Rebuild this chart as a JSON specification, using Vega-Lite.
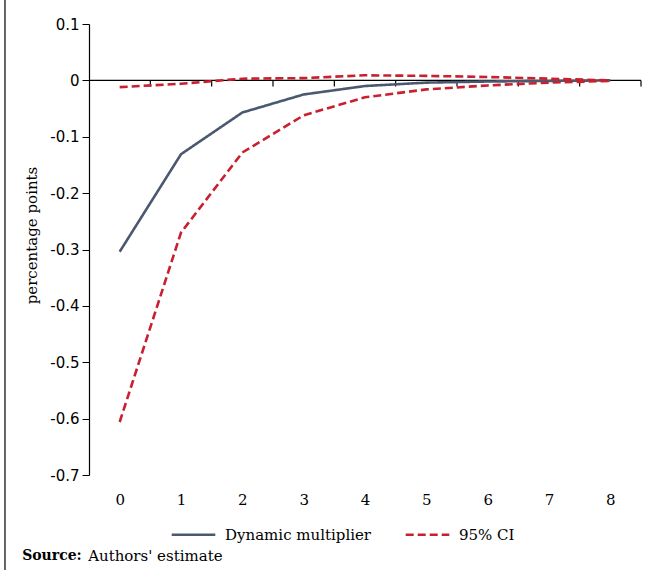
{
  "$schema": "https://vega.github.io/schema/vega-lite/v6.json",
  "autosize": {"type": "none"},
  "width": 552,
  "height": 451,
  "padding": {"left": 89, "top": 24, "right": 6, "bottom": 95},
  "background": "white",
  "config": {
    "view": {"stroke": null},
    "font": "DejaVu Serif"
  },
  "datasets": {
    "series": [
      {"period": 0, "value": -0.304, "series": "Dynamic multiplier", "line": "dm"},
      {"period": 1, "value": -0.131, "series": "Dynamic multiplier", "line": "dm"},
      {"period": 2, "value": -0.057, "series": "Dynamic multiplier", "line": "dm"},
      {"period": 3, "value": -0.025, "series": "Dynamic multiplier", "line": "dm"},
      {"period": 4, "value": -0.010, "series": "Dynamic multiplier", "line": "dm"},
      {"period": 5, "value": -0.004, "series": "Dynamic multiplier", "line": "dm"},
      {"period": 6, "value": -0.002, "series": "Dynamic multiplier", "line": "dm"},
      {"period": 7, "value": -0.001, "series": "Dynamic multiplier", "line": "dm"},
      {"period": 8, "value": 0.000, "series": "Dynamic multiplier", "line": "dm"},
      {"period": 0, "value": -0.606, "series": "95% CI", "line": "lower"},
      {"period": 1, "value": -0.270, "series": "95% CI", "line": "lower"},
      {"period": 2, "value": -0.128, "series": "95% CI", "line": "lower"},
      {"period": 3, "value": -0.062, "series": "95% CI", "line": "lower"},
      {"period": 4, "value": -0.030, "series": "95% CI", "line": "lower"},
      {"period": 5, "value": -0.016, "series": "95% CI", "line": "lower"},
      {"period": 6, "value": -0.009, "series": "95% CI", "line": "lower"},
      {"period": 7, "value": -0.004, "series": "95% CI", "line": "lower"},
      {"period": 8, "value": -0.001, "series": "95% CI", "line": "lower"},
      {"period": 0, "value": -0.012, "series": "95% CI", "line": "upper"},
      {"period": 1, "value": -0.006, "series": "95% CI", "line": "upper"},
      {"period": 2, "value": 0.003, "series": "95% CI", "line": "upper"},
      {"period": 3, "value": 0.004, "series": "95% CI", "line": "upper"},
      {"period": 4, "value": 0.009, "series": "95% CI", "line": "upper"},
      {"period": 5, "value": 0.008, "series": "95% CI", "line": "upper"},
      {"period": 6, "value": 0.006, "series": "95% CI", "line": "upper"},
      {"period": 7, "value": 0.003, "series": "95% CI", "line": "upper"},
      {"period": 8, "value": 0.000, "series": "95% CI", "line": "upper"}
    ],
    "zero": [{"x": -0.5, "x2": 8.5, "y": 0}],
    "ticks": [
      {"x": 0.5}, {"x": 1.5}, {"x": 2.5}, {"x": 3.5}, {"x": 4.5},
      {"x": 5.5}, {"x": 6.5}, {"x": 7.5}, {"x": 8.5}
    ],
    "border": [{"x": -1.87, "y": 0.15, "y2": -0.87}],
    "source": [{"x": -1.59, "y": -0.844, "bold": "Source:", "rest": "Authors' estimate"}]
  },
  "layer": [
    {
      "data": {"name": "zero"},
      "mark": {"type": "rule", "color": "#000000", "strokeWidth": 1.2},
      "encoding": {
        "x": {"field": "x", "type": "quantitative", "scale": {"domain": [-0.5, 8.5], "nice": false, "zero": false},
          "axis": {"values": [0, 1, 2, 3, 4, 5, 6, 7, 8], "format": "d", "domain": false, "ticks": false, "grid": false, "title": null,
            "labelFont": "DejaVu Serif", "labelFontSize": 15, "labelColor": "#000000", "labelPadding": 17}},
        "x2": {"field": "x2"},
        "y": {"field": "y", "type": "quantitative", "scale": {"domain": [-0.7, 0.1], "nice": false},
          "axis": {"values": [0.1, 0, -0.1, -0.2, -0.3, -0.4, -0.5, -0.6, -0.7], "grid": false,
            "labelExpr": "datum.value == 0 ? '0' : toString(round(datum.value * 10) / 10)",
            "labelFont": "DejaVu Sans", "labelFontSize": 15, "labelColor": "#000000", "labelPadding": 3,
            "tickSize": 7, "tickColor": "#000000", "domainColor": "#000000", "domainWidth": 1.2,
            "title": "percentage points", "titleFont": "DejaVu Serif", "titleFontSize": 15,
            "titleFontWeight": "normal", "titleColor": "#000000", "titlePadding": 10, "titleY": 211}}
      }
    },
    {
      "data": {"name": "ticks"},
      "mark": {"type": "rule", "color": "#000000", "strokeWidth": 1.2},
      "encoding": {
        "x": {"field": "x", "type": "quantitative"},
        "y": {"datum": 0, "type": "quantitative"},
        "y2": {"datum": -0.011}
      }
    },
    {
      "data": {"name": "series"},
      "mark": {"type": "line", "strokeWidth": 2.6},
      "encoding": {
        "x": {"field": "period", "type": "quantitative"},
        "y": {"field": "value", "type": "quantitative"},
        "detail": {"field": "line"},
        "color": {"field": "series", "type": "nominal",
          "scale": {"domain": ["Dynamic multiplier", "95% CI"], "range": ["#4a5870", "#c8202e"]},
          "legend": {"orient": "none", "legendX": 81, "legendY": 487, "direction": "horizontal", "title": null,
            "symbolType": "stroke", "symbolSize": 1900, "symbolStrokeWidth": 2.6,
            "labelFont": "DejaVu Serif", "labelFontSize": 15, "labelColor": "#000000",
            "labelOffset": 8, "columnPadding": 28}},
        "strokeDash": {"field": "series", "type": "nominal",
          "scale": {"domain": ["Dynamic multiplier", "95% CI"], "range": [[1, 0], [8, 4]]},
          "legend": {"orient": "none", "legendX": 81, "legendY": 487, "direction": "horizontal", "title": null,
            "symbolType": "stroke", "symbolSize": 1900, "symbolStrokeWidth": 2.6,
            "labelFont": "DejaVu Serif", "labelFontSize": 15, "labelColor": "#000000",
            "labelOffset": 8, "columnPadding": 28}}
      }
    },
    {
      "data": {"name": "border"},
      "mark": {"type": "rule", "color": "#333333", "strokeWidth": 1.5, "clip": false},
      "encoding": {
        "x": {"field": "x", "type": "quantitative"},
        "y": {"field": "y", "type": "quantitative"},
        "y2": {"field": "y2"}
      }
    },
    {
      "data": {"name": "source"},
      "mark": {"type": "text", "align": "left", "baseline": "middle", "font": "DejaVu Serif", "fontSize": 14, "fontWeight": "bold", "color": "#000000"},
      "encoding": {
        "x": {"field": "x", "type": "quantitative"},
        "y": {"field": "y", "type": "quantitative"},
        "text": {"field": "bold"}
      }
    },
    {
      "data": {"name": "source"},
      "mark": {"type": "text", "align": "left", "baseline": "middle", "font": "DejaVu Serif", "fontSize": 15, "dx": 66, "color": "#000000"},
      "encoding": {
        "x": {"field": "x", "type": "quantitative"},
        "y": {"field": "y", "type": "quantitative"},
        "text": {"field": "rest"}
      }
    }
  ]
}
